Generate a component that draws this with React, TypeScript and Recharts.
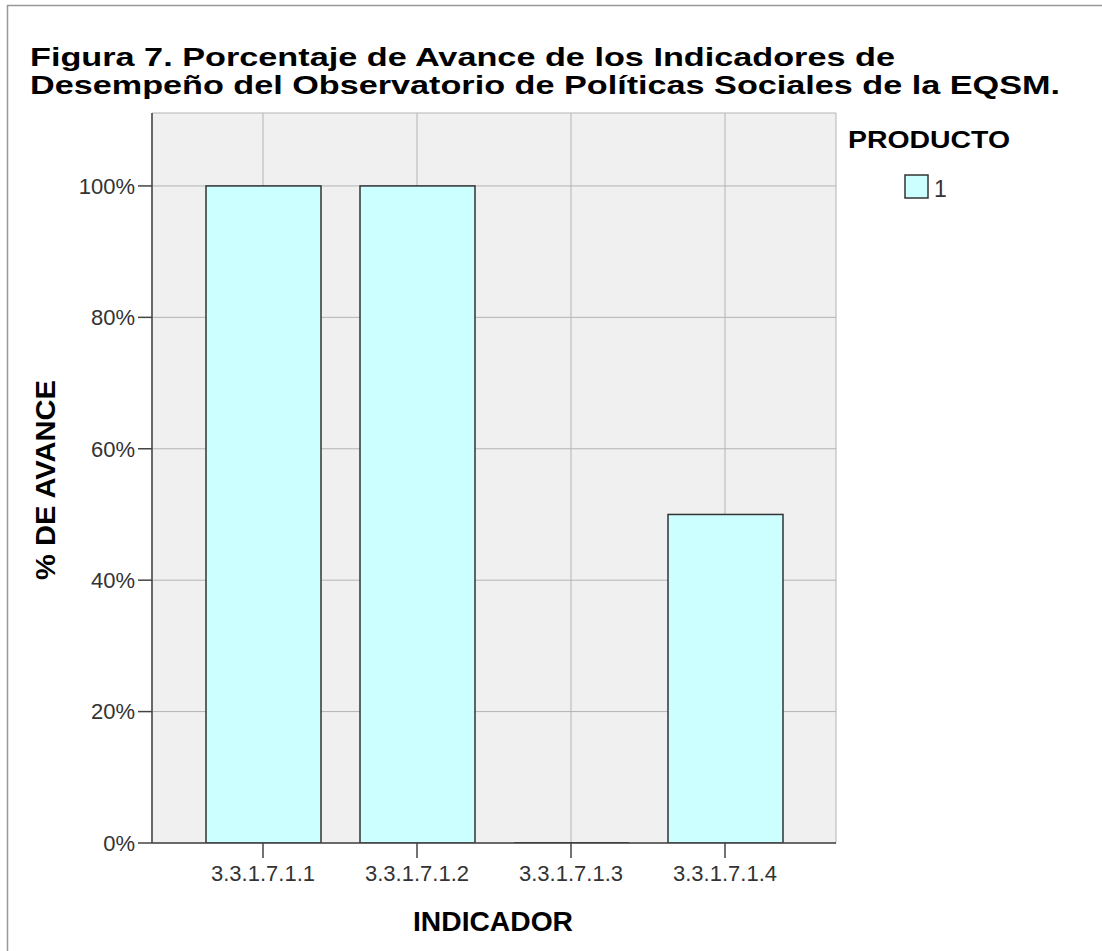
import { BarChart, Bar, XAxis, YAxis, CartesianGrid } from "recharts";

// valores
const INDICADORES = ["3.3.1.7.1.1", "3.3.1.7.1.2", "3.3.1.7.1.3", "3.3.1.7.1.4"];
const AVANCE = [100, 100, 0, 50];
const Y_TICKS = [0, 20, 40, 60, 80, 100];
const PRODUCTOS = ["1"];

const data = INDICADORES.map((ind, i) => ({ ind, avance: AVANCE[i] }));

const FONT = '"Liberation Sans", Arial, sans-serif';
const BAR_FILL = "#ccffff";
const EDGE = "#333";
const AXIS = "#444";

function BarShape(props: any) {
  const { x, y, width, height } = props;
  if (!height) {
    return <line x1={x} x2={x + width} y1={y} y2={y} stroke={EDGE} strokeWidth={2} />;
  }
  return <rect x={x} y={y} width={width} height={height} fill={BAR_FILL} stroke={EDGE} strokeWidth={1.5} />;
}

export default function App() {
  return (
    <div style={{ position: "absolute", left: 0, top: 0, width: 1102, height: 951, overflow: "hidden", background: "#fff", fontFamily: FONT }}>
      <BarChart width={1102} height={951} data={data} margin={{ top: 113, right: 266, bottom: 48, left: 52 }}>
        <CartesianGrid fill="#f0f0f0" stroke="#b4b4b4" strokeWidth={1} />
        <XAxis
          dataKey="ind"
          height={60}
          padding={{ left: 34, right: 34 }}
          tickSize={15}
          tickMargin={7}
          axisLine={{ stroke: AXIS, strokeWidth: 1.5 }}
          tickLine={{ stroke: AXIS, strokeWidth: 1.5 }}
          tick={{ fill: "#333", fontSize: 22, fontFamily: FONT }}
        />
        <YAxis
          width={100}
          domain={[0, 111.1]}
          ticks={Y_TICKS}
          allowDataOverflow
          tickFormatter={(v) => `${v}%`}
          tickSize={14}
          tickMargin={3}
          axisLine={{ stroke: AXIS, strokeWidth: 1.5 }}
          tickLine={{ stroke: AXIS, strokeWidth: 1.5 }}
          tick={{ fill: "#333", fontSize: 22, fontFamily: FONT }}
        />
        <Bar dataKey="avance" barSize={115} shape={BarShape} isAnimationActive={false} />
      </BarChart>

      <svg width={1102} height={951} style={{ position: "absolute", left: 0, top: 0, pointerEvents: "none" }}>
        <line x1={7.5} x2={7.5} y1={5} y2={951} stroke="#999" strokeWidth={1.5} />
        <line x1={7} x2={1102} y1={5.5} y2={5.5} stroke="#999" strokeWidth={1.5} />

        <g fontFamily={FONT} fontWeight="bold" fill="#000">
          <text x={30} y={66} fontSize={25} textLength={865} lengthAdjust="spacingAndGlyphs">
            Figura 7. Porcentaje de Avance de los Indicadores de
          </text>
          <text x={30} y={94} fontSize={25} textLength={1030} lengthAdjust="spacingAndGlyphs">
            Desempeño del Observatorio de Políticas Sociales de la EQSM.
          </text>
          <text x={413} y={931} fontSize={27} textLength={160} lengthAdjust="spacingAndGlyphs">
            INDICADOR
          </text>
          <text
            transform="translate(55 480) rotate(-90)"
            textAnchor="middle"
            fontSize={27}
            textLength={200}
            lengthAdjust="spacingAndGlyphs"
          >
            % DE AVANCE
          </text>
          <text x={848} y={148} fontSize={24} textLength={162} lengthAdjust="spacingAndGlyphs">
            PRODUCTO
          </text>
        </g>

        {PRODUCTOS.map((p, i) => (
          <g key={p}>
            <rect x={905} y={175 + i * 30} width={23} height={23} fill={BAR_FILL} stroke={EDGE} strokeWidth={1.5} />
            <text x={934} y={197 + i * 30} fontFamily={FONT} fontSize={23} fill="#333">
              {p}
            </text>
          </g>
        ))}
      </svg>
    </div>
  );
}
